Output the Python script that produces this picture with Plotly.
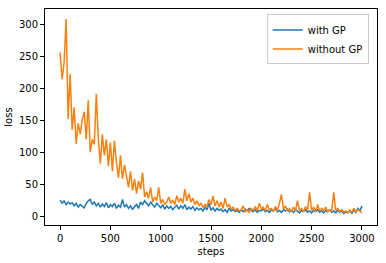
import plotly.graph_objects as go

steps = list(range(0, 3001, 20))

with_gp = [
    25, 20, 24, 18, 22, 19, 21, 16, 20, 14, 18, 15, 13, 20, 24, 26, 18, 22, 16, 20,
    14, 19, 15, 21, 13, 18, 15, 20, 12, 17, 14, 26, 14, 18, 12, 16, 10, 15, 18, 12,
    22, 18, 24, 20, 16, 22, 18, 14, 20, 16, 13, 18, 11, 16, 12, 15, 10, 14, 17, 11,
    16, 12, 18, 10, 14, 11, 15, 9, 13, 10, 12, 8, 14, 10, 20, 9, 13, 8, 12, 9,
    11, 7, 10, 6, 12, 8, 10, 7, 9, 6, 10, 7, 11, 8, 12, 9, 7, 10, 6, 9,
    8, 11, 7, 9, 6, 10, 8, 12, 7, 9, 6, 10, 8, 11, 7, 9, 6, 10, 8, 5,
    9, 7, 10, 6, 8, 5, 9, 7, 10, 6, 8, 5, 9, 7, 10, 6, 8, 5, 9, 6,
    8, 4, 7, 5, 9, 4, 10, 6, 12, 8, 16,
]

without_gp = [
    256, 214, 240, 308, 152, 222, 135, 170, 113, 145, 128, 150, 163, 120, 181, 100, 120, 112, 191, 120,
    82, 128, 95, 120, 78, 115, 70, 118, 85, 60, 95, 58, 80, 65, 45, 70, 40, 58, 35, 55,
    42, 68, 30, 38, 28, 45, 22, 30, 24, 45, 20, 26, 18, 22, 30, 20, 25, 18, 32, 22,
    28, 20, 42, 24, 35, 22, 28, 18, 24, 16, 20, 14, 18, 15, 26, 18, 31, 16, 24, 14,
    22, 12, 28, 14, 18, 11, 14, 9, 12, 8, 10, 16, 7, 10, 6, 12, 9, 15, 8, 20,
    11, 14, 8, 18, 10, 12, 7, 15, 9, 20, 34, 11, 16, 8, 12, 7, 14, 9, 24, 8,
    12, 7, 15, 9, 37, 9, 14, 7, 18, 8, 12, 9, 14, 7, 10, 8, 37, 9, 12, 7,
    10, 6, 8, 5, 9, 6, 12, 7, 10, 8, 5,
]

x_ticks = [0, 500, 1000, 1500, 2000, 2500, 3000]
y_ticks = [0, 50, 100, 150, 200, 250, 300]

fig = go.Figure()
fig.add_trace(go.Scatter(x=steps, y=with_gp, mode="lines", name="with GP",
                         line=dict(color="#1f77b4", width=1.5)))
fig.add_trace(go.Scatter(x=steps, y=without_gp, mode="lines", name="without GP",
                         line=dict(color="#ff7f0e", width=1.5)))

axis_common = dict(showline=True, linecolor="black", linewidth=1, mirror=True,
                   ticks="outside", ticklen=4, tickcolor="black", showgrid=False,
                   zeroline=False, tickfont=dict(size=10, color="black"))

fig.update_layout(
    width=386, height=263,
    margin=dict(l=43, r=8, t=8, b=37),
    paper_bgcolor="white", plot_bgcolor="white",
    font=dict(family="DejaVu Sans", size=10, color="black"),
    xaxis=dict(range=[-150, 3150], tickvals=x_ticks,
               title=dict(text="steps", standoff=4, font=dict(size=10)), **axis_common),
    yaxis=dict(range=[-13.9, 323.7], tickvals=y_ticks,
               title=dict(text="loss", standoff=4, font=dict(size=10)), **axis_common),
    legend=dict(x=0.975, y=0.975, xanchor="right", yanchor="top",
                bgcolor="rgba(255,255,255,0.8)", bordercolor="#cccccc", borderwidth=1,
                font=dict(size=10), itemwidth=30, tracegroupgap=0),
    showlegend=True,
)

fig.write_html("out.html", config={"displayModeBar": False},
               post_script="document.body.style.margin='0';")
